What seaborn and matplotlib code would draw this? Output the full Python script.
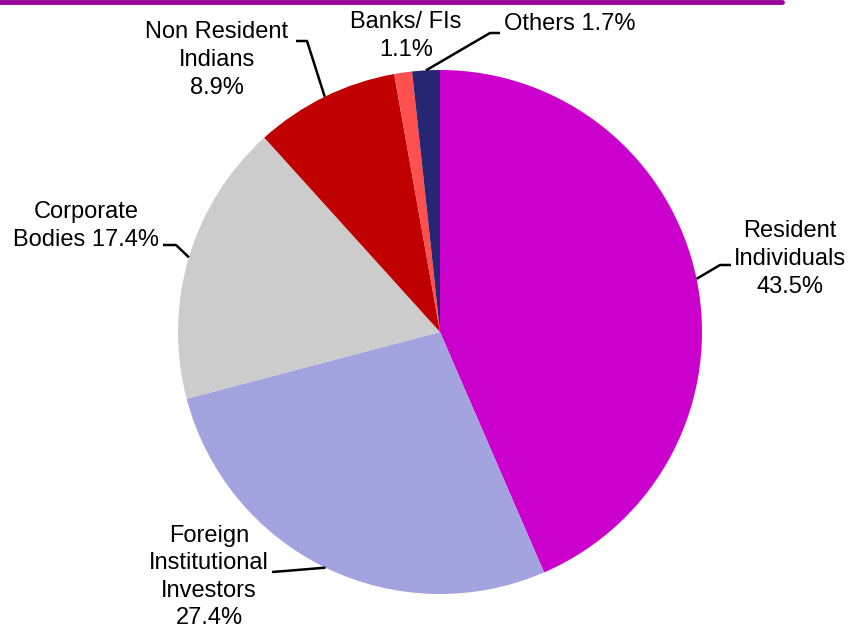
import numpy as np
import matplotlib
matplotlib.use("Agg")
import matplotlib.pyplot as plt
import seaborn as sns
from matplotlib.lines import Line2D

categories = ["Resident Individuals", "Foreign Institutional Investors", "Corporate Bodies",
              "Non Resident Indians", "Banks/ FIs", "Others"]
values = [43.5, 27.4, 17.4, 8.9, 1.1, 1.7]
label_texts = ["Resident\nIndividuals\n43.5%", "Foreign\nInstitutional\nInvestors\n27.4%",
               "Corporate\nBodies 17.4%", "Non Resident\nIndians\n8.9%", "Banks/ FIs\n1.1%",
               "Others 1.7%"]
colors = ["#CC00CC", "#A3A3E0", "#CCCCCC", "#C00000", "#FF5050", "#262673"]

sns.set_style("white")
plt.rcParams["font.family"] = ["Liberation Sans", "DejaVu Sans"]

W, H = 849, 628
fig = plt.figure(figsize=(W / 100, H / 100), dpi=100)
cx, cy, R = 440, 332, 262
ax = fig.add_axes([(cx - R) / W, (H - cy - R) / H, 2 * R / W, 2 * R / H])
ax.set_xlim(-1, 1)
ax.set_ylim(-1, 1)
ax.set_aspect("equal")
ax.axis("off")

wedges, _ = ax.pie(values, colors=colors, startangle=90, counterclock=False,
                   radius=1, center=(0, 0), wedgeprops=dict(linewidth=0))
ax.set_xlim(-1, 1)
ax.set_ylim(-1, 1)


def d(px, py):
    return ((px - cx) / R, (cy - py) / R)

# label layout: (text center px, elbow px, end px) ; None for no leader
layout = [
    ((790, 259), (720, 265), (731, 265)),
    ((209, 577), (285, 571), (272, 572)),
    ((86, 226), (176, 245), (163, 245)),
    ((217, 60), (307, 41), (296, 41)),
    ((406, 36), None, None),
    ((570, 24), (490, 33), (500, 33)),
]

for w, txt, (tpos, elbow, end) in zip(wedges, label_texts, layout):
    tx, ty = d(*tpos)
    ax.text(tx, ty, txt, ha="center", va="center", fontsize=17, color="black",
            linespacing=1.33, clip_on=False)
    if elbow is not None:
        mid = np.deg2rad((w.theta1 + w.theta2) / 2)
        ax_pt = (np.cos(mid), np.sin(mid))
        ex, ey = d(*elbow)
        nx, ny = d(*end)
        ax.plot([ax_pt[0], ex, nx], [ax_pt[1], ey, ny], color="black", lw=1.8,
                solid_capstyle="butt", clip_on=False)

fig.add_artist(Line2D([0, 782 / W], [1 - 2 / H, 1 - 2 / H], color="#990099", lw=3.5,
                      transform=fig.transFigure))

fig.savefig("out.png", dpi=100, facecolor="white")
